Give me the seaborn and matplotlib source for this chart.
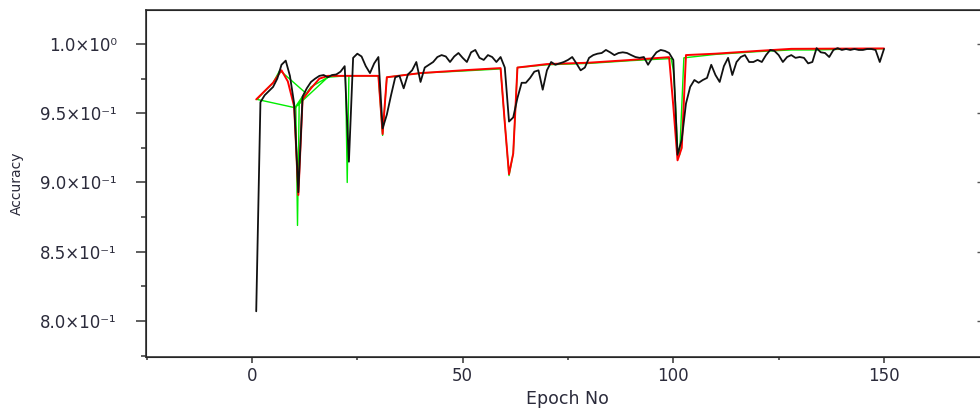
import numpy as np
import pandas as pd
import seaborn as sns
import matplotlib
matplotlib.use("Agg")
import matplotlib.pyplot as plt
from matplotlib.ticker import MultipleLocator

sns.set_style("ticks")
plt.rcParams["font.family"] = ["DejaVu Sans"]

# Black curve: accuracy per epoch
epochs = list(range(1, 151))
acc_black = [
    0.807, 0.958, 0.963, 0.966, 0.969, 0.975, 0.985, 0.988, 0.977, 0.957,
    0.893, 0.962, 0.968, 0.9726, 0.975, 0.977, 0.9776, 0.976, 0.9776, 0.978,
    0.980, 0.984, 0.915, 0.990, 0.993, 0.991, 0.984, 0.979, 0.986, 0.9906,
    0.939, 0.949, 0.963, 0.976, 0.977, 0.968, 0.978, 0.981, 0.987, 0.9726,
    0.983, 0.985, 0.987, 0.9906, 0.992, 0.991, 0.987, 0.991, 0.9935, 0.990,
    0.987, 0.994, 0.9957, 0.990, 0.9885, 0.992, 0.9906, 0.987, 0.9906, 0.983,
    0.944, 0.947, 0.961, 0.972, 0.972, 0.9755, 0.980, 0.981, 0.967, 0.981,
    0.987, 0.985, 0.986, 0.987, 0.9885, 0.9906, 0.986, 0.981, 0.983, 0.990,
    0.992, 0.993, 0.9935, 0.9957, 0.994, 0.992, 0.9935, 0.994, 0.9935, 0.992,
    0.9906, 0.990, 0.9906, 0.985, 0.990, 0.994, 0.9957, 0.995, 0.9935, 0.9885,
    0.920, 0.931, 0.957, 0.969, 0.974, 0.972, 0.974, 0.9755, 0.985, 0.9776,
    0.9726, 0.984, 0.990, 0.9776, 0.987, 0.9906, 0.992, 0.987, 0.987, 0.9885,
    0.987, 0.992, 0.9957, 0.995, 0.992, 0.987, 0.9906, 0.992, 0.990, 0.9906,
    0.990, 0.986, 0.987, 0.997, 0.994, 0.9935, 0.9906, 0.9957, 0.997, 0.9957,
    0.9964, 0.9957, 0.9964, 0.9957, 0.9957, 0.9964, 0.9964, 0.9957, 0.987, 0.9964,
]

# Red curve
red_x = [1, 3, 5, 7, 8.5, 10, 11, 12, 14, 16, 18, 20, 30, 31, 32, 40, 50, 59,
         60, 61, 62, 63, 70, 80, 90, 99, 100, 101, 102, 103, 110, 120, 128, 150]
red_y = [0.960, 0.966, 0.972, 0.981, 0.973, 0.955, 0.891, 0.960, 0.968, 0.975,
         0.977, 0.977, 0.977, 0.935, 0.976, 0.979, 0.981, 0.9826,
         0.943, 0.906, 0.921, 0.983, 0.9855, 0.9865, 0.9885, 0.9905,
         0.955, 0.916, 0.925, 0.992, 0.993, 0.995, 0.9965, 0.9968]

# Green curve (points are not in epoch order at the start)
green_x = [18, 10.2, 1.2, 3, 5, 6.6, 12.6, 10.4, 10.8, 11.2, 14, 18, 22.2, 22.6,
           23, 30, 31, 32, 40, 50, 59, 60, 61, 62, 63, 70, 80, 90, 99.5, 100,
           100.5, 101, 101.5, 102.5, 110, 120, 128, 134, 140, 148, 150]
green_y = [0.976, 0.954, 0.960, 0.966, 0.972, 0.981, 0.965, 0.955, 0.869, 0.957,
           0.969, 0.976, 0.977, 0.900, 0.977, 0.977, 0.934, 0.976, 0.979, 0.9805,
           0.982, 0.943, 0.905, 0.921, 0.983, 0.985, 0.986, 0.988, 0.9895, 0.981,
           0.958, 0.925, 0.920, 0.990, 0.9925, 0.9945, 0.9957, 0.9957, 0.9962,
           0.9964, 0.9966]

xticks = [0, 50, 100, 150]
yticks = [0.80, 0.85, 0.90, 0.95, 1.00]
ytick_labels = ["8.0×10⁻¹", "8.5×10⁻¹", "9.0×10⁻¹", "9.5×10⁻¹", "1.0×10⁰"]

black_df = pd.DataFrame({"epoch": epochs, "acc": acc_black})
red_df = pd.DataFrame({"epoch": red_x, "acc": red_y})
green_df = pd.DataFrame({"epoch": green_x, "acc": green_y})

fig = plt.figure(figsize=(9.8, 4.08), dpi=100)
ax = fig.add_axes([146 / 980, 51 / 408, 837 / 980, 347 / 408])

sns.lineplot(data=green_df, x="epoch", y="acc", ax=ax, color="#00ee00",
             lw=1.0, sort=False, estimator=None)
sns.lineplot(data=red_df, x="epoch", y="acc", ax=ax, color="#ff0000",
             lw=1.4, sort=False, estimator=None)
sns.lineplot(data=black_df, x="epoch", y="acc", ax=ax, color="#111111",
             lw=1.3, sort=False, estimator=None)

ax.set_xlim(-25.16, 173.5)
ax.set_ylim(0.7740, 1.02455)
ax.set_xticks(xticks)
ax.set_yticks(yticks)
ax.set_yticklabels(ytick_labels)
ax.xaxis.set_minor_locator(MultipleLocator(25))
ax.yaxis.set_minor_locator(MultipleLocator(0.025))

label_col = "#2b2b3b"
ax.tick_params(axis="y", which="major", length=7, width=1.1, pad=14,
               labelsize=12, labelcolor=label_col, color="#333333")
ax.tick_params(axis="y", which="minor", length=3.5, width=1.1, color="#333333")
ax.tick_params(axis="x", which="major", length=4, width=1.1, pad=3.5,
               labelsize=12, labelcolor=label_col, color="#333333")
ax.tick_params(axis="x", which="minor", length=2.5, width=1.1, color="#333333")

for side in ["top", "right", "bottom", "left"]:
    ax.spines[side].set_visible(True)
    ax.spines[side].set_color("#333333")
    ax.spines[side].set_linewidth(1.2)

# right-hand inward ticks
ax2 = ax.twinx()
ax2.set_ylim(ax.get_ylim())
ax2.set_yticks(yticks)
ax2.tick_params(axis="y", direction="in", length=4, width=1.0,
                labelright=False, color="#555555")
ax2.spines["right"].set_color("#333333")

ax.set_xlabel("Epoch No", fontsize=12.5, color=label_col)
ax.xaxis.set_label_coords(0.503, -0.095)
ax.set_ylabel("Accuracy", fontsize=10, color=label_col)
ax.yaxis.set_label_coords(-0.146, 0.5)

fig.savefig("out.png", dpi=100)
